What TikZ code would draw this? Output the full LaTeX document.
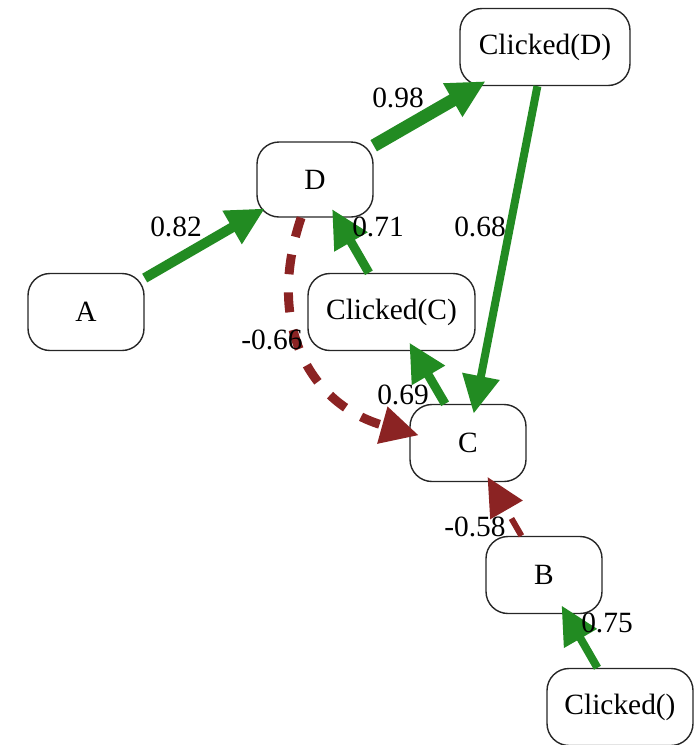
\documentclass[tikz,border=0pt]{standalone}
\usepackage{fontspec}
\setmainfont{Liberation Serif}
\usetikzlibrary{arrows.meta}
\definecolor{gr}{RGB}{34,139,34}
\definecolor{rd}{RGB}{139,35,35}
\begin{document}
\begin{tikzpicture}[x=0.5pt,y=-0.5pt,
  box/.style={draw=black!85, line width=0.7pt, rounded corners=11pt, minimum height=38.5pt, minimum width=58pt, font=\fontsize{14.7}{17}\selectfont, inner sep=0pt},
  lbl/.style={font=\fontsize{14.7}{17}\selectfont, inner sep=0pt},
  ge/.style={draw=gr, shorten >=-5pt, -{Triangle[length=19pt,width=18pt]}},
  re/.style={draw=rd, dash pattern=on 10pt off 9pt, shorten >=-5pt, -{Triangle[length=19pt,width=18pt]}}]
\useasboundingbox (0,0) rectangle (695,745);
\node[box, minimum width=85pt] (CD) at (545,47) {\raisebox{-1pt}{Clicked(D)}};
\node[box, minimum height=37.5pt] (D) at (315,179.5) {D};
\node[box] (A) at (86,312) {A};
\node[box, minimum width=83.5pt] (CC) at (391.5,312) {\raisebox{-1pt}{Clicked(C)}};
\node[box] (C) at (468,443) {C};
\node[box] (B) at (544,575) {B};
\node[box, minimum width=73pt] (C0) at (620,707) {\raisebox{-1pt}{Clicked()}};
\draw[ge, line width=5pt] (A) -- (D);
\draw[ge, line width=6.5pt] (D) -- (CD);
\draw[ge, line width=4pt] (CD) -- (C);
\draw[ge, line width=4.5pt] (CC) -- (D);
\draw[ge, line width=4.5pt] (C) -- (CC);
\draw[re, line width=4.5pt] (D.-110) .. controls (265,325) and (310,405) .. (C.170);
\draw[re, line width=3pt, shorten >=-3pt] (B) -- (C);
\draw[ge, line width=4pt] (C0) -- (B);
\node[lbl] (l1) at (176,227) {0.82};
\node[lbl] (l2) at (398,98) {0.98};
\node[lbl] (l3) at (480,227) {0.68};
\node[lbl] (l4) at (378,227) {0.71};
\node[lbl] (l5) at (403,395) {0.69};
\node[lbl] (l6) at (272,340) {-0.66};
\node[lbl] (l7) at (475,527) {-0.58};
\node[lbl] (l8) at (607,623) {0.75};
\end{tikzpicture}
\end{document}
